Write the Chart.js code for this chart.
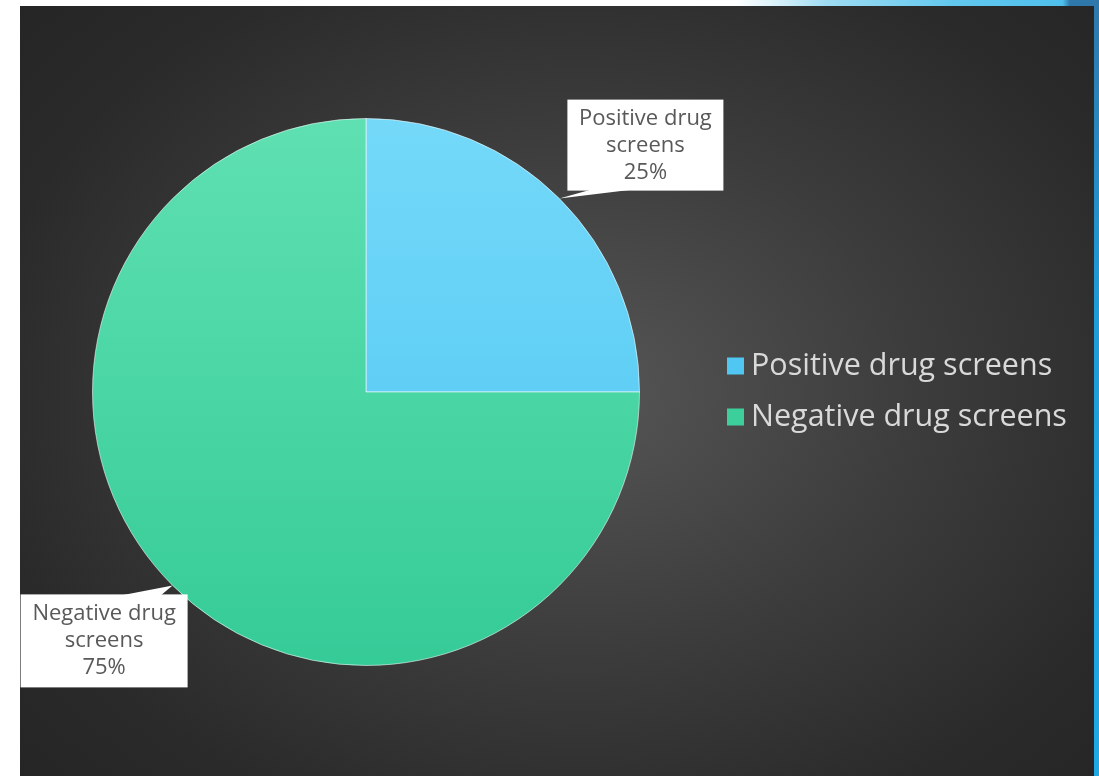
<!DOCTYPE html>
<html>
<head>
<meta charset="utf-8">
<script src="https://cdn.jsdelivr.net/npm/chart.js@4"></script>
<style>
  html, body { margin: 0; padding: 0; background: #fff; }
  body { width: 1099px; height: 776px; position: relative; overflow: hidden; }
  .deco-top { position: absolute; left: 735px; top: 0; width: 364px; height: 6px;
    background: linear-gradient(90deg, #ffffff 0%, #dff3fb 10%, #9fdcf3 25%, #62c8ee 60%, #4fc0ec 90%, #2f78ab 92%); }
  .deco-right { position: absolute; left: 1094px; top: 0; width: 5px; height: 776px;
    background: linear-gradient(180deg, #2f78ab 0%, #1f9bd8 40%, #1ea8e4 100%); }
  .panel { position: absolute; left: 20px; top: 6px; width: 1074px; height: 770px;
    background: radial-gradient(ellipse 70% 75% at 52% 50%, #565656 0%, #3c3c3c 45%, #2a2a2a 80%, #252525 100%); }
</style>
</head>
<body>
<div class="deco-top"></div>
<div class="deco-right"></div>
<div class="panel"><canvas id="bieu-do-xet-nghiem" width="1074" height="770"></canvas></div>
<script>
// Dữ liệu biểu đồ
const labels = ['Positive drug screens', 'Negative drug screens'];
const values = [25, 75];
const calloutLines = [['Positive drug', 'screens', '25%'], ['Negative drug', 'screens', '75%']];

const fontName = '"Open Sans", "DejaVu Sans", sans-serif';

// màu gradient theo chiều dọc của hình tròn
const mauNen = [['#74d9f9', '#4cc4f1'], ['#5fe0b2', '#35cb97']];
const mauChuThich = ['#4fc7f2', '#3ccf9c'];

function toGradient(context) {
  const chart = context.chart;
  const area = chart.chartArea;
  if (!area) return mauChuThich[context.dataIndex];
  const g = chart.ctx.createLinearGradient(0, area.top, 0, area.bottom);
  g.addColorStop(0, mauNen[context.dataIndex][0]);
  g.addColorStop(1, mauNen[context.dataIndex][1]);
  return g;
}

// Nhãn dạng hộp có mũi nhọn chỉ vào lát
const calloutPlugin = {
  id: 'callouts',
  afterDatasetsDraw(chart) {
    const ctx = chart.ctx;
    const arcs = chart.getDatasetMeta(0).data;
    const boxes = [
      { dx: 8, dy: -8, w: 156, h: 91, anchorRight: false, tip: [32, 74] },
      { dx: 15, dy: 9, w: 167, h: 93, anchorRight: true, tip: [-52, -12] }
    ];
    arcs.forEach((arc, i) => {
      const mid = (arc.startAngle + arc.endAngle) / 2;
      const ax = arc.x + Math.cos(mid) * arc.outerRadius;
      const ay = arc.y + Math.sin(mid) * arc.outerRadius;
      const b = boxes[i];
      let x, y;
      if (!b.anchorRight) { x = ax + b.dx; y = ay + b.dy - b.h; }
      else { x = ax + b.dx - b.w; y = ay + b.dy; }
      ctx.save();
      ctx.fillStyle = '#ffffff';
      ctx.fillRect(x, y, b.w, b.h);
      ctx.beginPath();
      ctx.moveTo(ax, ay);
      if (!b.anchorRight) {
        ctx.lineTo(ax + b.tip[0], y + b.h - 1);
        ctx.lineTo(ax + b.tip[1], y + b.h - 1);
      } else {
        ctx.lineTo(ax + b.tip[0], y + 1);
        ctx.lineTo(ax + b.tip[1], y + 1);
      }
      ctx.closePath();
      ctx.fill();
      ctx.fillStyle = '#595959';
      ctx.font = '22px ' + fontName;
      ctx.textAlign = 'center';
      ctx.textBaseline = 'middle';
      calloutLines[i].forEach((t, k) => {
        ctx.fillText(t, x + b.w / 2, y + 19 + k * 27);
      });
      ctx.restore();
    });
  }
};

// Chú thích bên phải
const legendPlugin = {
  id: 'chuThich',
  afterDraw(chart) {
    const ctx = chart.ctx;
    ctx.save();
    ctx.font = '30.5px ' + fontName;
    ctx.textBaseline = 'middle';
    labels.forEach((lb, i) => {
      const cy = 360 + i * 51;
      ctx.fillStyle = mauChuThich[i];
      ctx.fillRect(707, cy - 8.5, 17, 17);
      ctx.fillStyle = '#d9d9d9';
      ctx.fillText(lb, 731, cy);
    });
    ctx.restore();
  }
};

const config = {
  type: 'pie',
  data: {
    labels: labels,
    datasets: [{
      data: values,
      backgroundColor: toGradient,
      borderColor: 'rgba(255,255,255,0.55)',
      borderWidth: 1
    }]
  },
  options: {
    responsive: false,
    animation: false,
    layout: { padding: { left: 72, top: 112, right: 454, bottom: 110 } },
    plugins: {
      legend: { display: false },
      tooltip: { enabled: false }
    }
  },
  plugins: [calloutPlugin, legendPlugin]
};

const bieuDo = new Chart(document.getElementById('bieu-do-xet-nghiem'), config);
</script>
</body>
</html>
